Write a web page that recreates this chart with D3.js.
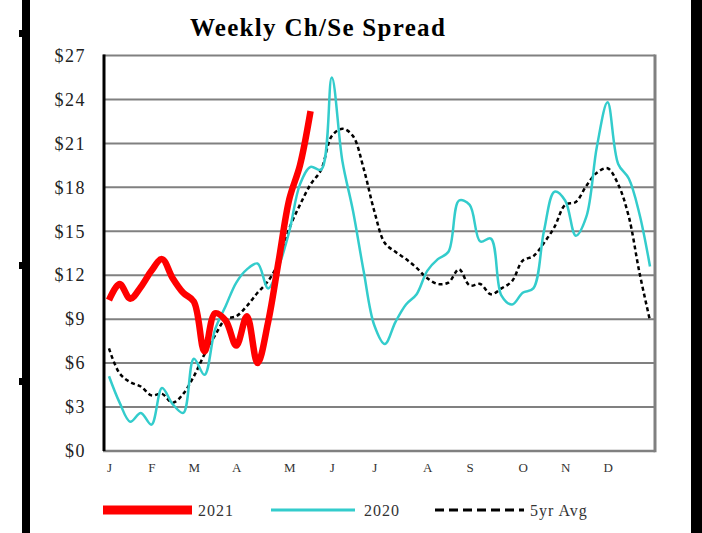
<!DOCTYPE html>
<html>
<head>
<meta charset="utf-8">
<script src="https://cdn.jsdelivr.net/npm/d3@7"></script>
<style>
  body { margin: 0; background: #fff; }
  svg { display: block; }
  text { font-family: "Liberation Serif", "DejaVu Serif", serif; }
</style>
</head>
<body>
<svg width="702" height="533"></svg>
<script>
// weekly values, week 1 = first week of January
var weeks2021 = [10.3, 11.4, 10.4, 11.2, 12.3, 13.1, 11.8, 10.8, 10.2, 6.8,
                 9.4, 8.9, 7.2, 9.2, 6.0, 8.8, 13.0, 17.2, 19.5, 23.2];

var weeks2020 = [5.1, 3.3, 2.0, 2.6, 1.8, 4.3, 3.2, 2.6, 6.3, 5.2,
                 8.3, 9.9, 11.5, 12.4, 12.8, 11.1, 12.6, 15.0, 18.2, 19.4,
                 19.2, 25.5, 19.8, 16.4, 12.3, 8.6, 7.3, 8.8, 10.0, 10.7,
                 12.3, 13.1, 13.6, 17.1, 16.8, 14.3, 14.5, 10.6, 10.0, 10.8,
                 11.1, 15.0, 17.7, 17.1, 14.7, 16.0, 20.8, 23.8, 19.6, 18.6,
                 16.2, 12.6];

var avg5yr = [7.0, 5.3, 4.7, 4.4, 3.8, 3.9, 3.3, 3.9, 5.1, 6.6,
              7.9, 9.0, 9.2, 9.9, 10.8, 11.6, 12.9, 15.2, 16.8, 18.2,
              19.2, 21.5, 22.0, 21.5, 19.3, 16.4, 14.2, 13.6, 13.1, 12.5,
              11.8, 11.4, 11.5, 12.4, 11.3, 11.4, 10.7, 11.1, 11.6, 13.0,
              13.3, 14.2, 15.3, 16.8, 17.0, 18.1, 19.0, 19.3, 18.2, 16.0,
              12.2, 8.9];

var monthLabels = ["J", "F", "M", "A", "M", "J", "J", "A", "S", "O", "N", "D"];
var monthWeeks  = [0, 4, 8, 12, 17, 21, 25, 30, 34, 39, 43, 47];
var yTicks = [0, 3, 6, 9, 12, 15, 18, 21, 24, 27];

var svg = d3.select("svg");

// frame bars at the edges of the picture
svg.append("rect").attr("x", 22).attr("y", 0).attr("width", 8).attr("height", 533).attr("fill", "#000");
svg.append("rect").attr("x", 691).attr("y", 0).attr("width", 11).attr("height", 533).attr("fill", "#000");
[30, 262, 378].forEach(function(y) {
  svg.append("rect").attr("x", 19).attr("y", y).attr("width", 6).attr("height", 7).attr("fill", "#000");
});

var plotLeft = 104, plotRight = 655, plotTop = 55.5, plotBottom = 451;

var x = d3.scaleLinear().domain([0, 51]).range([109, 650]);
var y = d3.scaleLinear().domain([0, 27]).range([plotBottom, plotTop]);

// title
svg.append("text")
  .attr("x", 318).attr("y", 36)
  .attr("text-anchor", "middle")
  .style("font-size", "25px").style("font-weight", "bold")
  .style("letter-spacing", "1.3px")
  .attr("fill", "#000")
  .text("Weekly Ch/Se Spread");

// gridlines
var grid = svg.append("g");
grid.selectAll("line")
  .data(yTicks)
  .enter().append("line")
  .attr("x1", plotLeft - 1).attr("x2", plotRight)
  .attr("y1", function(d) { return y(d); })
  .attr("y2", function(d) { return y(d); })
  .attr("stroke", "#808080")
  .attr("stroke-width", function(d) { return d == 0 ? 2.5 : 2; });

// right border
svg.append("line")
  .attr("x1", plotRight).attr("x2", plotRight)
  .attr("y1", plotTop - 1).attr("y2", plotBottom + 1.2)
  .attr("stroke", "#808080").attr("stroke-width", 3);

// y axis
var yAxis = d3.axisLeft(y)
  .tickValues(yTicks)
  .tickSize(0)
  .tickPadding(0)
  .tickFormat(function(d) { return "$" + d; });

var yg = svg.append("g")
  .attr("transform", "translate(86,0)")
  .call(yAxis);
yg.select(".domain").remove();
yg.selectAll("text")
  .style("font-size", "18px")
  .style("letter-spacing", "1.5px")
  .attr("fill", "#222");

svg.append("line")
  .attr("x1", plotLeft).attr("x2", plotLeft)
  .attr("y1", plotTop - 1).attr("y2", plotBottom)
  .attr("stroke", "#000").attr("stroke-width", 3);

// month labels
var xAxis = d3.axisBottom(x)
  .tickValues(monthWeeks)
  .tickSize(0)
  .tickPadding(0)
  .tickFormat(function(d, i) { return monthLabels[i]; });

var xg = svg.append("g")
  .attr("transform", "translate(0,463)")
  .call(xAxis);
xg.select(".domain").remove();
xg.selectAll("text")
  .style("font-size", "13px")
  .attr("fill", "#333");

// lines
var line = d3.line()
  .x(function(d, i) { return x(i); })
  .y(function(d) { return y(d); })
  .curve(d3.curveCatmullRom.alpha(0.5));

svg.append("path")
  .datum(avg5yr)
  .attr("d", line)
  .attr("fill", "none")
  .attr("stroke", "#000")
  .attr("stroke-width", 2.5)
  .attr("stroke-dasharray", "4,3");

svg.append("path")
  .datum(weeks2020)
  .attr("d", line)
  .attr("fill", "none")
  .attr("stroke", "#33cccc")
  .attr("stroke-width", 2.5);

svg.append("path")
  .datum(weeks2021)
  .attr("d", line)
  .attr("fill", "none")
  .attr("stroke", "#ff0000")
  .attr("stroke-width", 6.5)
  .attr("stroke-linejoin", "round");

// legend
var legend = [
  { name: "2021", x: 103, color: "#ff0000", width: 9, dash: null, textX: 198 },
  { name: "2020", x: 271, color: "#33cccc", width: 3, dash: null, textX: 364 },
  { name: "5yr Avg", x: 435, color: "#000", width: 3, dash: "9,5", textX: 530 }
];

var lg = svg.append("g");
legend.forEach(function(d) {
  lg.append("line")
    .attr("x1", d.x).attr("x2", d.x + (d.name == "5yr Avg" ? 89 : (d.name == "2021" ? 89 : 84)))
    .attr("y1", 510).attr("y2", 510)
    .attr("stroke", d.color)
    .attr("stroke-width", d.width)
    .attr("stroke-dasharray", d.dash);
  lg.append("text")
    .attr("x", d.textX).attr("y", 516)
    .style("font-size", "16px")
    .style("letter-spacing", "1px")
    .attr("fill", "#333")
    .text(d.name);
});
</script>
</body>
</html>
